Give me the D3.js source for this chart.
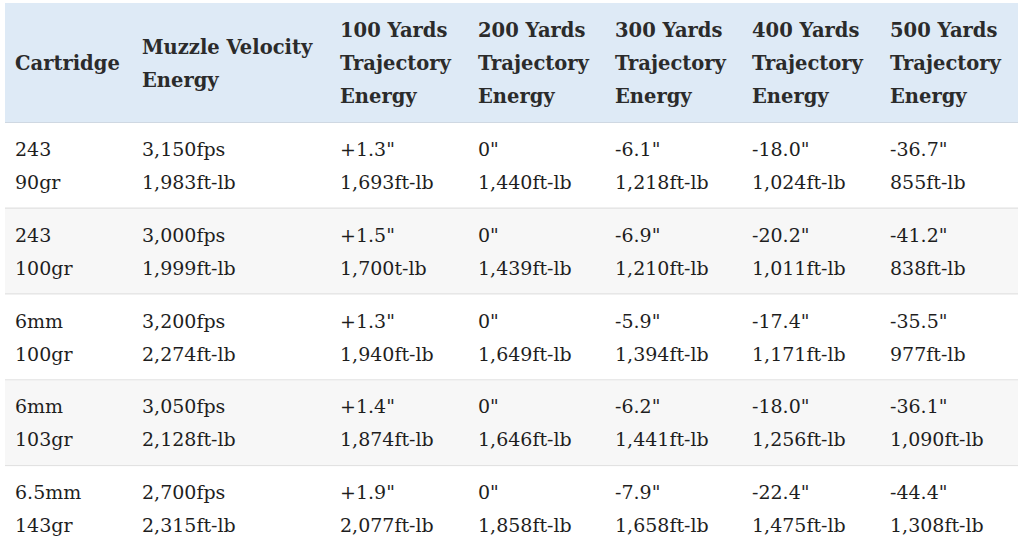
<!DOCTYPE html>
<html><head><meta charset="utf-8">
<script src="https://cdn.jsdelivr.net/npm/d3@7"></script>
<style>html,body{margin:0;padding:0;background:#fff;}svg{display:block;}</style>
</head><body>
<script>
const headers = [
  ["Cartridge"],
  ["Muzzle Velocity","Energy"],
  ["100 Yards","Trajectory","Energy"],
  ["200 Yards","Trajectory","Energy"],
  ["300 Yards","Trajectory","Energy"],
  ["400 Yards","Trajectory","Energy"],
  ["500 Yards","Trajectory","Energy"]
];
const cartridges = [["243","90gr"],["243","100gr"],["6mm","100gr"],["6mm","103gr"],["6.5mm","143gr"]];
const muzzle = [["3,150fps","1,983ft-lb"],["3,000fps","1,999ft-lb"],["3,200fps","2,274ft-lb"],["3,050fps","2,128ft-lb"],["2,700fps","2,315ft-lb"]];
const y100 = [["+1.3\"","1,693ft-lb"],["+1.5\"","1,700t-lb"],["+1.3\"","1,940ft-lb"],["+1.4\"","1,874ft-lb"],["+1.9\"","2,077ft-lb"]];
const y200 = [["0\"","1,440ft-lb"],["0\"","1,439ft-lb"],["0\"","1,649ft-lb"],["0\"","1,646ft-lb"],["0\"","1,858ft-lb"]];
const y300 = [["-6.1\"","1,218ft-lb"],["-6.9\"","1,210ft-lb"],["-5.9\"","1,394ft-lb"],["-6.2\"","1,441ft-lb"],["-7.9\"","1,658ft-lb"]];
const y400 = [["-18.0\"","1,024ft-lb"],["-20.2\"","1,011ft-lb"],["-17.4\"","1,171ft-lb"],["-18.0\"","1,256ft-lb"],["-22.4\"","1,475ft-lb"]];
const y500 = [["-36.7\"","855ft-lb"],["-41.2\"","838ft-lb"],["-35.5\"","977ft-lb"],["-36.1\"","1,090ft-lb"],["-44.4\"","1,308ft-lb"]];

const columns = [cartridges, muzzle, y100, y200, y300, y400, y500];
const colWidths = [127, 198, 138, 137, 137, 138, 127];

const W = 1024, H = 560;
const left = 5, right = 1018;
const headTop = 3, headBottom = 122, rowsBottom = 552;
const font = "Georgia, 'DejaVu Serif', serif";

const svg = d3.select("body").append("svg").attr("width", W).attr("height", H);

const colStarts = colWidths.reduce((a, w, i) => { a.push(i === 0 ? left + 10 : a[i-1] + colWidths[i-1]); return a; }, []);
const xCol = d3.scaleOrdinal().domain(d3.range(columns.length)).range(colStarts);
const yRow = d3.scaleBand().domain(d3.range(cartridges.length)).range([headBottom + 1, rowsBottom]).paddingInner(0);

// header background
svg.append("rect").attr("x", left).attr("y", headTop).attr("width", right - left).attr("height", headBottom - headTop).attr("fill", "#deeaf6");
svg.append("line").attr("x1", left).attr("x2", right).attr("y1", headBottom + 0.5).attr("y2", headBottom + 0.5).attr("stroke", "#cfd8e2");

// row backgrounds
const rows = svg.selectAll("g.row").data(cartridges.map((c, i) => i)).join("g").attr("class", "row");
rows.append("rect").attr("x", left).attr("y", i => yRow(i)).attr("width", right - left).attr("height", yRow.bandwidth())
  .attr("fill", i => i % 2 === 1 ? "#f7f7f7" : "#ffffff");
rows.filter(i => i < cartridges.length - 1).append("line").attr("x1", left).attr("x2", right)
  .attr("y1", i => yRow(i) + yRow.bandwidth() - 0.5).attr("y2", i => yRow(i) + yRow.bandwidth() - 0.5)
  .attr("stroke", "#e2e2e2").attr("stroke-width", 1.5);

// header text
const lineH = 33;
const headMid = (headTop + headBottom) / 2 + 1;
headers.forEach((lines, ci) => {
  const t = svg.append("text").attr("font-family", font).attr("font-weight", "bold").attr("font-size", 19.5)
    .attr("fill", "#2b2b2b");
  lines.forEach((s, li) => {
    t.append("tspan").attr("x", xCol(ci)).attr("y", headMid + (li - (lines.length - 1) / 2) * lineH).attr("dy", "0.35em").text(s);
  });
});

// body text
columns.forEach((col, ci) => {
  col.forEach((pair, ri) => {
    const mid = yRow(ri) + yRow.bandwidth() / 2;
    pair.forEach((s, li) => {
      svg.append("text").attr("font-family", font).attr("font-size", 19).attr("fill", "#1e1e1e")
        .attr("x", xCol(ci)).attr("y", mid + (li - 0.5) * lineH).attr("dy", "0.35em").text(s);
    });
  });
});
</script>
</body></html>
